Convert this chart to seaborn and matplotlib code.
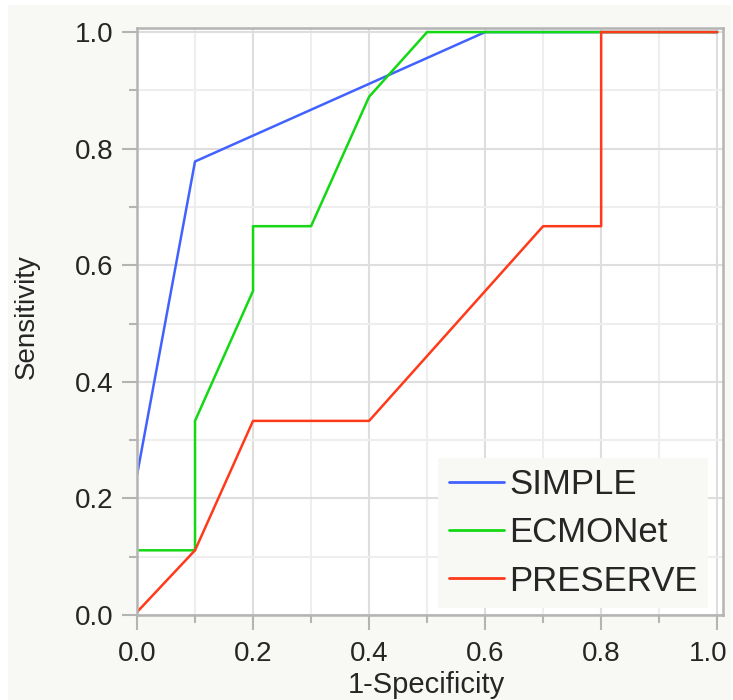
import matplotlib
matplotlib.use('Agg')
import matplotlib.pyplot as plt
import matplotlib.transforms as mtransforms
import pandas as pd
import seaborn as sns
from matplotlib.ticker import MultipleLocator, FormatStrFormatter
from matplotlib.patches import Rectangle

# ROC points
simple_fpr = [0.0, 0.1, 0.6, 1.0]
simple_tpr = [0.24, 0.778, 1.0, 1.0]
ecmo_fpr = [0.0, 0.1, 0.1, 0.2, 0.2, 0.3, 0.4, 0.5, 1.0]
ecmo_tpr = [0.111, 0.111, 0.333, 0.556, 0.667, 0.667, 0.889, 1.0, 1.0]
pres_fpr = [0.0, 0.1, 0.2, 0.4, 0.7, 0.8, 0.8, 1.0]
pres_tpr = [0.005, 0.111, 0.333, 0.333, 0.667, 0.667, 1.0, 1.0]
models = ['SIMPLE', 'ECMONet', 'PRESERVE']
colors = ['#4262ff', '#14d814', '#ff3a1a']

frames = []
for name, fpr, tpr in zip(models, [simple_fpr, ecmo_fpr, pres_fpr],
                          [simple_tpr, ecmo_tpr, pres_tpr]):
    d = pd.DataFrame({'fpr': fpr, 'tpr': tpr})
    d['model'] = name
    frames.append(d)
df = pd.concat(frames, ignore_index=True)

sns.set_style('white')
plt.rcParams['font.family'] = ['Liberation Sans', 'DejaVu Sans']

W, H = 733, 700
fig = plt.figure(figsize=(W / 100, H / 100), dpi=100, facecolor='white')
# off-white panel behind the plot (thin white margin top/left)
bg = Rectangle((8 / W, 0), (W - 10) / W, (H - 5) / H,
               transform=fig.transFigure, facecolor='#f8f8f4',
               edgecolor='none', zorder=-10)
fig.patches.append(bg)
ax = fig.add_axes([137 / W, 1 - 615 / H, 586 / W, 587 / H])
ax.set_facecolor('white')

sns.lineplot(data=df, x='fpr', y='tpr', hue='model', palette=colors,
             hue_order=models, sort=False, estimator=None, units='model',
             linewidth=1.8, ax=ax)

ax.set_xlim(0, 1.01)
ax.set_ylim(0, 1.007)
ax.xaxis.set_major_locator(MultipleLocator(0.2))
ax.xaxis.set_minor_locator(MultipleLocator(0.1))
ax.yaxis.set_major_locator(MultipleLocator(0.2))
ax.yaxis.set_minor_locator(MultipleLocator(0.1))
ax.xaxis.set_major_formatter(FormatStrFormatter('%.1f'))
ax.yaxis.set_major_formatter(FormatStrFormatter('%.1f'))
ax.grid(which='major', color='#dedede', linewidth=1.5)
ax.grid(which='minor', color='#eeeeee', linewidth=1.5)
ax.set_axisbelow(True)
ax.tick_params(which='major', length=11, width=1.5, color='#b4b4b4',
               labelsize=20)
ax.tick_params(which='minor', length=5.8, width=1.5, color='#b4b4b4')
ax.tick_params(axis='x', which='major', pad=8)
ax.tick_params(axis='y', which='major', pad=6)
ax.tick_params(axis='both', which='both', bottom=True, left=True)
for s in ax.spines.values():
    s.set_color('#b4b4b4')
    s.set_linewidth(1.8)

# last x tick label sits a bit inside, as in the reference
fig.canvas.draw()
last = ax.xaxis.get_major_ticks()[-1]
for t in ax.xaxis.get_major_ticks():
    if abs(t.get_loc() - 1.0) < 1e-6:
        last = t
last.label1.set_transform(last.label1.get_transform() +
                          mtransforms.ScaledTranslation(-9 / 100, 0, fig.dpi_scale_trans))

ax.set_xlabel('1-Specificity', fontsize=21)
ax.set_ylabel('Sensitivity', fontsize=20)
ax.xaxis.set_label_coords(0.494, -0.096)
ax.yaxis.set_label_coords(-0.1655, 0.508)

leg = ax.legend(loc='lower right', bbox_to_anchor=(0.975, 0.012),
                fontsize=25, frameon=True, facecolor='#f8f8f4',
                edgecolor='none', framealpha=1, handlelength=1.58,
                handletextpad=0.17, borderpad=0.3, labelspacing=0.44,
                borderaxespad=0, fancybox=False)
for line in leg.get_lines():
    line.set_linewidth(2.0)

fig.savefig('out.png', dpi=100, facecolor=fig.get_facecolor())
